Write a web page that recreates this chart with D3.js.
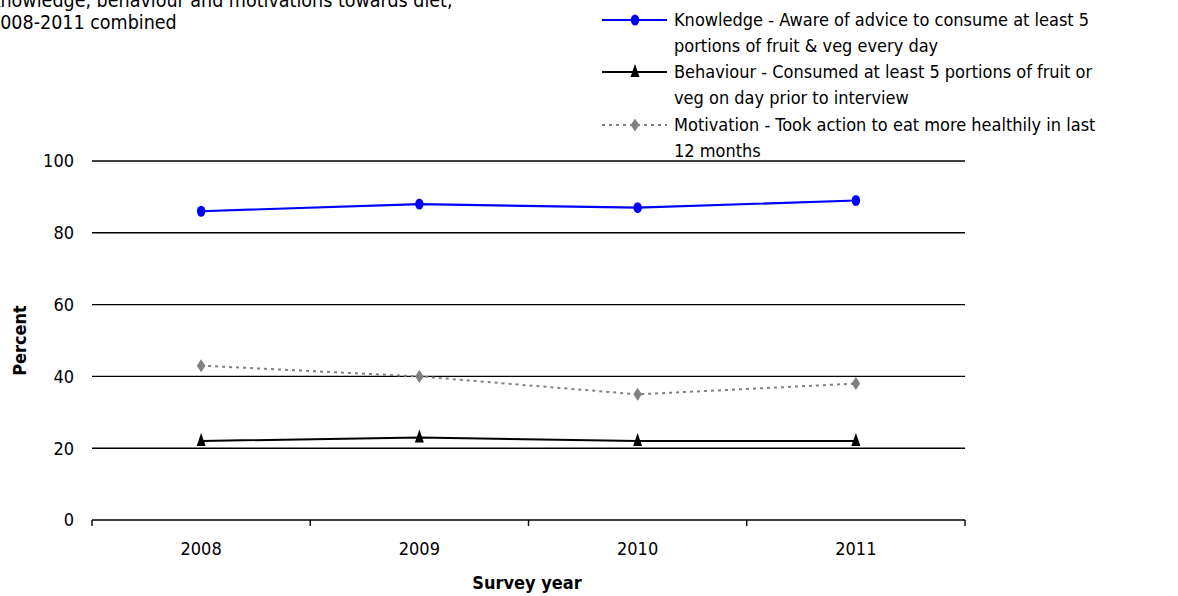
<!DOCTYPE html>
<html>
<head>
<meta charset="utf-8">
<script src="https://cdn.jsdelivr.net/npm/d3@7/dist/d3.min.js"></script>
<style>
  html, body { margin: 0; padding: 0; background: #fff; overflow: hidden; }
  svg text { font-family: Tahoma, "DejaVu Sans Condensed", "DejaVu Sans", sans-serif; font-stretch: condensed; fill: #000; }
</style>
</head>
<body>
<svg id="chart" width="1178" height="596"></svg>
<script>
// Survey years and the three indicator series (percent)
const years = ["2008", "2009", "2010", "2011"];
const knowledge = [86, 88, 87, 89];
const behaviour = [22, 23, 22, 22];
const motivation = [43, 40, 35, 38];
const yTicks = [0, 20, 40, 60, 80, 100];

const titleLines = ["Knowledge, behaviour and motivations towards diet,", "2008-2011 combined"];
const legendLabels = [
  ["Knowledge - Aware of advice to consume at least 5", "portions of fruit & veg every day"],
  ["Behaviour - Consumed at least 5 portions of fruit or", "veg on day prior to interview"],
  ["Motivation - Took action to eat more healthily in last", "12 months"]
];

const FS = "18px";
const svg = d3.select("#chart");
const margin = { left: 92, right: 1178 - 965, top: 161, bottom: 596 - 520 };
const W = 1178, H = 596;

const x = d3.scaleBand().domain(years).range([margin.left, W - margin.right]);
const y = d3.scaleLinear().domain([0, 100]).range([H - margin.bottom, margin.top]);

// Title (top-left)
const title = svg.append("text").attr("x", -11).attr("y", 7).style("font-size", "19.5px");
titleLines.forEach((t, i) => title.append("tspan").attr("x", -11).attr("dy", i === 0 ? 0 : 22).text(t));

// Horizontal gridlines
svg.append("g").selectAll("line").data(yTicks.filter(d => d > 0)).join("line")
  .attr("x1", margin.left).attr("x2", W - margin.right)
  .attr("y1", d => y(d)).attr("y2", d => y(d))
  .attr("stroke", "#000").attr("stroke-width", 1.4);

// Y axis labels
svg.append("g").selectAll("text").data(yTicks).join("text")
  .attr("x", 74).attr("y", d => y(d)).attr("dy", "0.35em")
  .attr("text-anchor", "end").style("font-size", FS)
  .text(d => d);

// X axis (baseline with ticks between categories)
const xAxis = d3.axisBottom(x).tickSize(0).tickPadding(0).tickFormat("");
const gx = svg.append("g").attr("transform", `translate(0,${y(0)})`).call(xAxis);
gx.select(".domain").remove();
gx.append("line").attr("x1", margin.left).attr("x2", W - margin.right)
  .attr("y1", 0).attr("y2", 0).attr("stroke", "#000").attr("stroke-width", 1.4);
const bounds = years.map(d => x(d)).concat([x(years[years.length - 1]) + x.bandwidth()]);
gx.selectAll(".bound").data(bounds).join("line").attr("class", "bound")
  .attr("x1", d => d).attr("x2", d => d).attr("y1", 0).attr("y2", 6)
  .attr("stroke", "#000").attr("stroke-width", 1.4);
gx.selectAll(".yr").data(years).join("text").attr("class", "yr")
  .attr("x", d => x(d) + x.bandwidth() / 2).attr("y", 35)
  .attr("text-anchor", "middle").style("font-size", FS).text(d => d);

// Axis titles
svg.append("text").attr("x", 527).attr("y", 589).attr("text-anchor", "middle")
  .style("font-size", FS).style("font-weight", "bold").text("Survey year");
svg.append("text").attr("transform", `translate(26,${(y(0) + y(100)) / 2}) rotate(-90)`)
  .attr("text-anchor", "middle").style("font-size", FS).style("font-weight", "bold").text("Percent");

const cx = d => x(d) + x.bandwidth() / 2;

// Marker shapes (slightly taller than wide)
const triPath = "M0,-8 L4.5,5 L-4.5,5 Z";
const diaPath = "M0,-6.5 L4.3,0 L0,6.5 L-4.3,0 Z";

const series = [
  { values: knowledge, color: "#0000ff", dash: null, width: 2.2, marker: "circle" },
  { values: behaviour, color: "#000000", dash: null, width: 2, marker: "tri" },
  { values: motivation, color: "#808080", dash: "3,4", width: 2, marker: "dia" }
];

function drawMarker(g, s, px, py) {
  if (s.marker === "circle") {
    g.append("ellipse").attr("cx", px).attr("cy", py).attr("rx", 4.2).attr("ry", 5.5).attr("fill", s.color);
  } else if (s.marker === "tri") {
    g.append("path").attr("d", triPath).attr("transform", `translate(${px},${py})`).attr("fill", s.color);
  } else {
    g.append("path").attr("d", diaPath).attr("transform", `translate(${px},${py})`).attr("fill", s.color);
  }
}

const line = d3.line().x(d => cx(d.year)).y(d => y(d.v));

series.forEach(s => {
  const pts = years.map((yr, i) => ({ year: yr, v: s.values[i] }));
  const g = svg.append("g");
  g.append("path").datum(pts).attr("d", line)
    .attr("fill", "none").attr("stroke", s.color).attr("stroke-width", s.width)
    .attr("stroke-dasharray", s.dash);
  pts.forEach(p => drawMarker(g, s, cx(p.year), y(p.v)));
});

// Legend
const legendRows = [20, 72, 125];
series.forEach((s, i) => {
  const ly = legendRows[i];
  const g = svg.append("g");
  g.append("line").attr("x1", 602).attr("x2", 667).attr("y1", ly).attr("y2", ly)
    .attr("stroke", s.color).attr("stroke-width", s.width).attr("stroke-dasharray", s.dash);
  drawMarker(g, s, 635, ly);
  const t = g.append("text").attr("x", 674).attr("y", ly).style("font-size", FS);
  legendLabels[i].forEach((txt, j) => t.append("tspan").attr("x", 674).attr("dy", j === 0 ? "0.35em" : 26).text(txt));
});
</script>
</body>
</html>
